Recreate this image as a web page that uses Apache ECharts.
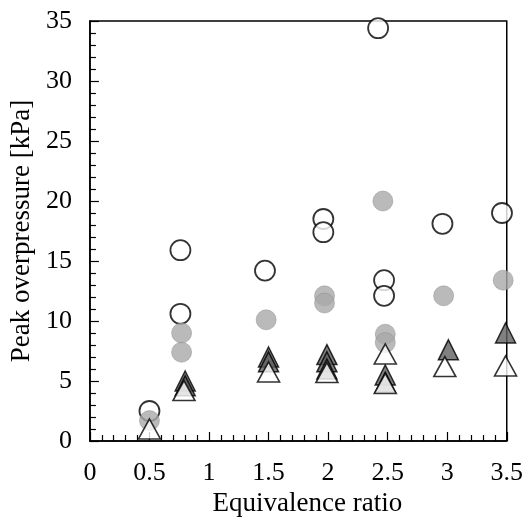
<!DOCTYPE html>
<html>
<head>
<meta charset="utf-8">
<script src="https://cdn.jsdelivr.net/npm/echarts@6/dist/echarts.min.js"></script>
<style>
  html, body { margin: 0; padding: 0; background: #fff; }
  #chart { width: 526px; height: 523px; }
</style>
</head>
<body>
<div id="chart"></div>
<script>
  // values: [equivalence ratio, peak overpressure kPa]
  var openCircles = [
    [0.5, 2.5], [0.76, 15.9], [0.76, 10.6], [1.47, 14.2],
    [1.96, 18.5], [1.96, 17.4], [2.42, 34.4], [2.47, 13.4],
    [2.47, 12.1], [2.96, 18.1], [3.46, 19.0]
  ]
  var grayCircles = [
    [0.5, 1.7], [0.77, 9.0], [0.77, 7.4], [1.48, 10.1],
    [1.97, 12.1], [1.97, 11.5], [2.46, 20.0], [2.48, 8.9],
    [2.48, 8.2], [2.97, 12.1], [3.47, 13.4]
  ]
  var darkTriangles = [
    [0.8, 5.0], [0.8, 4.6], [1.5, 7.0], [1.5, 6.6],
    [1.99, 7.2], [1.99, 6.6], [1.99, 6.0], [2.48, 5.5],
    [2.48, 4.9], [3.01, 7.6], [3.49, 9.0]
  ]
  var openTriangles = [
    [0.5, 1.0], [0.79, 4.2], [1.5, 5.75], [1.99, 5.7],
    [2.48, 7.25], [2.48, 4.8], [2.98, 6.2], [3.49, 6.25]
  ]
  var xTicks = [0, 0.5, 1, 1.5, 2, 2.5, 3, 3.5]
  var yTicks = [0, 5, 10, 15, 20, 25, 30, 35]

  var font = '"Liberation Serif", "Times New Roman", serif'
  var chart = echarts.init(document.getElementById('chart'))
  chart.setOption({
    animation: false,
    grid: {
      left: 88,
      right: 19,
      top: 21,
      bottom: 82,
      show: true,
      borderColor: '#000',
      borderWidth: 1.5
    },
    xAxis: {
      type: 'value',
      min: xTicks[0],
      max: xTicks[xTicks.length - 1],
      interval: 0.5,
      name: 'Equivalence ratio',
      nameLocation: 'middle',
      nameGap: 40,
      nameTextStyle: { fontFamily: font, fontSize: 27, color: '#000', padding: [0, 0, 0, 18] },
      axisLine: { lineStyle: { color: '#000', width: 1.5 } },
      axisTick: { inside: true, length: 9, lineStyle: { color: '#000', width: 1.2 } },
      minorTick: { show: true, splitNumber: 5, length: 6, lineStyle: { color: '#000', width: 1.2 } },
      splitLine: { show: false },
      axisLabel: {
        margin: 19,
        fontFamily: font,
        fontSize: 26,
        color: '#000',
        formatter: function (v) { return String(v) }
      }
    },
    yAxis: {
      type: 'value',
      min: yTicks[0],
      max: yTicks[yTicks.length - 1],
      interval: 5,
      name: 'Peak overpressure [kPa]',
      nameLocation: 'middle',
      nameGap: 54,
      nameTextStyle: { fontFamily: font, fontSize: 27, color: '#000' },
      axisLine: { lineStyle: { color: '#000', width: 1.5 } },
      axisTick: { inside: true, length: 9, lineStyle: { color: '#000', width: 1.2 } },
      minorTick: { show: true, splitNumber: 5, length: 6, lineStyle: { color: '#000', width: 1.2 } },
      splitLine: { show: false },
      axisLabel: {
        margin: 18,
        fontFamily: font,
        fontSize: 26,
        color: '#000'
      }
    },
    series: [
      {
        type: 'scatter',
        data: openCircles,
        symbol: 'circle',
        symbolSize: 20,
        itemStyle: { color: '#fff', borderColor: '#000', borderWidth: 1.8 },
        z: 2
      },
      {
        type: 'scatter',
        data: grayCircles,
        symbol: 'circle',
        symbolSize: 20,
        itemStyle: { color: '#a9a9a9', borderColor: '#8c8c8c', borderWidth: 0.6 },
        z: 3
      },
      {
        type: 'scatter',
        data: darkTriangles,
        symbol: 'triangle',
        symbolSize: [20, 20],
        itemStyle: { color: '#606060', borderColor: '#000', borderWidth: 1.5 },
        z: 4
      },
      {
        type: 'scatter',
        data: openTriangles,
        symbol: 'triangle',
        symbolSize: [22, 20],
        itemStyle: { color: '#fff', borderColor: '#000', borderWidth: 1.6 },
        z: 5
      }
    ]
  })
</script>
</body>
</html>
